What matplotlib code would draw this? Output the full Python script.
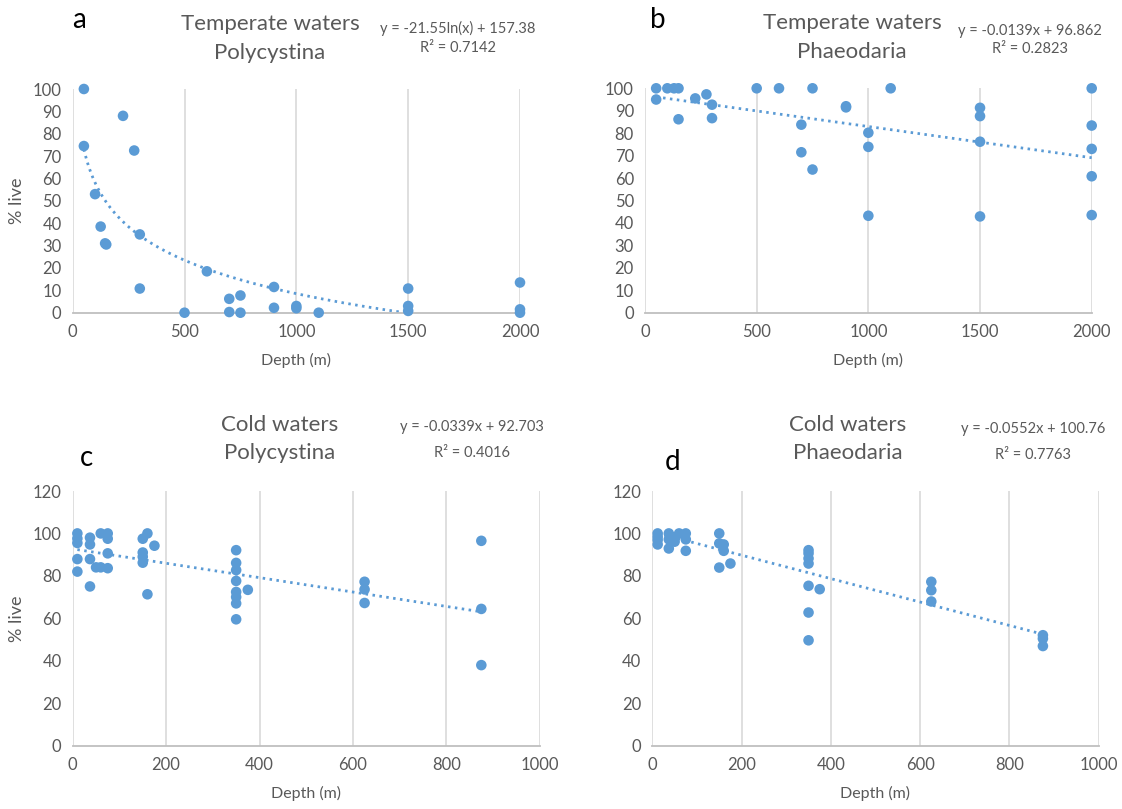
import matplotlib
matplotlib.use("Agg")
import matplotlib.pyplot as plt
import numpy as np

plt.rcParams["font.family"] = ["Lato", "DejaVu Sans"]

BLUE = "#5B9BD5"
GREY = "#595959"

# a: temperate waters, Polycystina
a_depth = [50, 50, 225, 275, 100, 125, 145, 150, 300, 300, 500, 600, 700, 700,
           750, 750, 900, 900, 1000, 1000, 1100, 1500, 1500, 1500, 2000, 2000, 2000]
a_live = [100, 74.5, 88, 72.5, 53, 38.5, 31, 30.5, 35, 10.8, 0, 18.5, 6.2, 0.3,
          7.7, 0, 11.5, 2.2, 2, 3, 0, 10.8, 3, 0.8, 13.5, 1.5, 0]
a_fit = (-21.55, 157.38)
a_eq = ["y = -21.55ln(x) + 157.38", "R² = 0.7142"]

# b: temperate waters, Phaeodaria
b_depth = [50, 50, 100, 130, 150, 150, 225, 275, 300, 300, 500, 600, 700, 700,
           750, 750, 900, 900, 1000, 1000, 1000, 1100, 1500, 1500, 1500, 1500,
           2000, 2000, 2000, 2000, 2000]
b_live = [100, 95, 100, 100, 100, 86.2, 95.5, 97.3, 92.7, 86.7, 100, 100, 83.8,
          71.5, 100, 63.8, 92, 91.5, 80.2, 73.9, 43.2, 100, 91.3, 87.6, 76.2,
          42.9, 100, 83.4, 73, 60.8, 43.5]
b_fit = (-0.0139, 96.862)
b_eq = ["y = -0.0139x + 96.862", "R² = 0.2823"]

# c: cold waters, Polycystina
c_depth = [10, 10, 10, 10, 10, 37, 37, 37, 37, 50, 60, 60, 75, 75, 75, 75,
           150, 150, 150, 150, 160, 160, 175, 350, 350, 350, 350, 350, 350, 350,
           350, 375, 625, 625, 625, 875, 875, 875]
c_live = [100, 97.6, 95.5, 87.9, 82, 98, 94.8, 87.9, 75, 84, 100, 84, 100, 97.5,
          90.6, 83.6, 97.5, 91, 89, 86.2, 100, 71.3, 94.2, 92.1, 86.1, 82.7, 77.6,
          72.4, 70, 67, 59.5, 73.4, 77.2, 73.6, 67.2, 96.5, 64.4, 37.9]
c_fit = (-0.0339, 92.703)
c_eq = ["y = -0.0339x + 92.703", "R² = 0.4016"]

# d: cold waters, Phaeodaria
d_depth = [12, 12, 12, 12, 37, 37, 37, 50, 50, 60, 75, 75, 75, 150, 150, 150,
           160, 160, 175, 350, 350, 350, 350, 350, 350, 350, 375, 625, 625, 625,
           875, 875, 875]
d_live = [100, 98.4, 96.9, 94.8, 100, 97.2, 92.9, 98, 96.1, 100, 100, 97.2, 91.8,
          100, 95.3, 83.9, 94.8, 91.8, 85.8, 92.1, 90.6, 88.2, 85.8, 75.3, 62.7,
          49.6, 73.7, 77.2, 73.2, 67.9, 52, 50.4, 46.9]
d_fit = (-0.0552, 100.76)
d_eq = ["y = -0.0552x + 100.76", "R² = 0.7763"]

W, H = 1122, 809
fig = plt.figure(figsize=(W / 100, H / 100), dpi=100)


def px_axes(x0, x1, ytop, ybot):
    return fig.add_axes([x0 / W, 1 - ybot / H, (x1 - x0) / W, (ybot - ytop) / H])


def panel(ax, depth, live, fit, log, xmax, xstep, ymax, ystep, ylabel):
    ax.scatter(depth, live, s=58, color=BLUE, zorder=3, clip_on=False,
               edgecolors="none")
    xs = np.linspace(min(depth), max(depth), 300)
    if log:
        ys = fit[0] * np.log(xs) + fit[1]
    else:
        ys = fit[0] * xs + fit[1]
    ax.plot(xs, ys, color=BLUE, lw=2, linestyle=(0, (0.9, 1.6)), zorder=2)
    ax.set_xlim(0, xmax)
    ax.set_ylim(0, ymax)
    ax.set_xticks(np.arange(0, xmax + 1, xstep))
    ax.set_yticks(np.arange(0, ymax + 1, ystep))
    ax.grid(axis="x", color="#d9d9d9", lw=1.2)
    ax.set_axisbelow(True)
    for s in ["top", "right", "left"]:
        ax.spines[s].set_visible(False)
    ax.spines["bottom"].set_color("#bfbfbf")
    ax.spines["bottom"].set_linewidth(1.3)
    ax.tick_params(length=0, labelsize=12, labelcolor=GREY)
    ax.tick_params(axis="x", pad=8)
    ax.tick_params(axis="y", pad=8)
    ax.set_xlabel("Depth (m)", fontsize=11.5, color=GREY)
    ax.xaxis.set_label_coords(0.5, -40 / ax.bbox.height)
    if ylabel:
        ax.set_ylabel("% live", fontsize=13, color=GREY)
        bb = ax.get_position()
        ax.yaxis.set_label_coords((25 / W - bb.x0) / bb.width, 0.5)


def labels(letter, lx, ly, title, tx, ty, eq, ex, ey):
    fig.text(lx / W, 1 - ly / H, letter, fontsize=20, ha="left", va="center")
    fig.text(tx / W, 1 - ty[0] / H, title[0], fontsize=16, color=GREY,
             ha="center", va="center")
    fig.text(tx / W, 1 - ty[1] / H, title[1], fontsize=16, color=GREY,
             ha="center", va="center")
    fig.text(ex / W, 1 - ey[0] / H, eq[0], fontsize=10.5, color=GREY,
             ha="center", va="center")
    fig.text(ex / W, 1 - ey[1] / H, eq[1], fontsize=10.5, color=GREY,
             ha="center", va="center")


ax_a = px_axes(72.7, 520, 89, 312.7)
panel(ax_a, a_depth, a_live, a_fit, True, 2000, 500, 100, 10, True)
ax_b = px_axes(645, 1091.7, 88.3, 312.7)
panel(ax_b, b_depth, b_live, b_fit, False, 2000, 500, 100, 10, False)
ax_c = px_axes(72.7, 539.7, 491, 745.5)
panel(ax_c, c_depth, c_live, c_fit, False, 1000, 200, 120, 20, True)
ax_d = px_axes(652.3, 1098.7, 491, 745.5)
panel(ax_d, d_depth, d_live, d_fit, False, 1000, 200, 120, 20, False)

labels("a", 72, 20, ["Temperate waters", "Polycystina"], 270, (24, 53),
       a_eq, 458, (28, 48))
labels("b", 650, 20, ["Temperate waters", "Phaeodaria"], 852, (23, 52),
       b_eq, 1030, (31, 49))
labels("c", 80, 458, ["Cold waters", "Polycystina"], 280, (425, 453),
       c_eq, 472, (427, 453))
labels("d", 665, 462, ["Cold waters", "Phaeodaria"], 848, (425, 453),
       d_eq, 1033, (429, 455))

fig.savefig("out.png", dpi=100)
